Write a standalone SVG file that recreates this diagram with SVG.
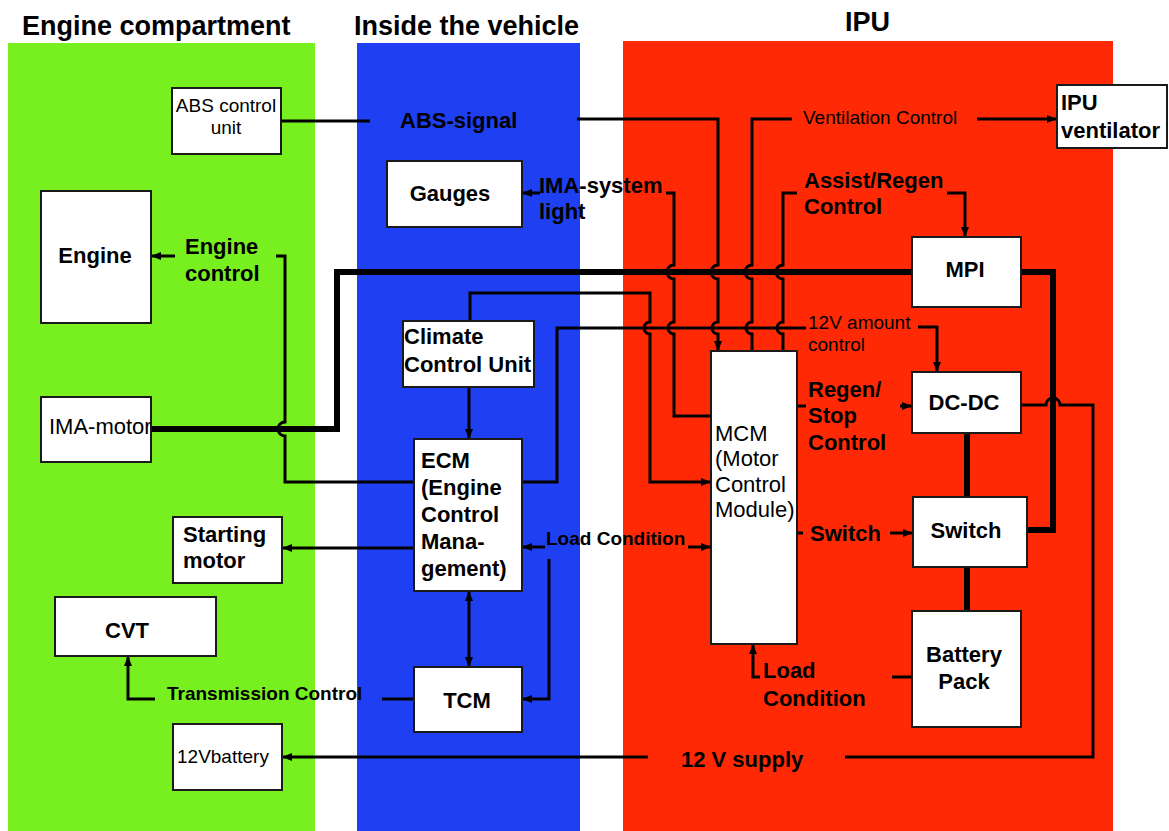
<svg xmlns="http://www.w3.org/2000/svg" width="1169" height="831" viewBox="0 0 1169 831">
<defs>
<marker id="ah" markerUnits="userSpaceOnUse" markerWidth="10" markerHeight="10" refX="10" refY="5" orient="auto-start-reverse"><path d="M0,1 L10,5 L0,9 z" fill="#000"/></marker>
<style>
.t{font-family:"Liberation Sans",Arial,sans-serif;fill:#000}
.b{font-weight:bold}
.h{font-size:27px;font-weight:bold}
.s22{font-size:22px}
.s19{font-size:19px}
.box{fill:#fff;stroke:#1a1a1a;stroke-width:2}
.ln{fill:none;stroke:#000;stroke-width:3}
.th{fill:none;stroke:#000;stroke-width:6}
.ar{marker-end:url(#ah)}
.m{text-anchor:middle}
</style>
</defs>
<rect width="1169" height="831" fill="#fff"/>
<g id="zones">
<rect x="8" y="43" width="307" height="788" fill="#78f020"/>
<rect x="357" y="43" width="223" height="788" fill="#1f3ff2"/>
<rect x="623" y="41" width="490" height="790" fill="#ff2a05"/>
<text class="t h" x="22" y="35">Engine compartment</text>
<text class="t h" x="354" y="35">Inside the vehicle</text>
<text class="t h" x="845" y="31">IPU</text>
</g>
<g id="connectors">
<path class="th" d="M151,429 H337 V272 H912"/>
<path class="th" d="M1021,272 H1053 V530 H1027"/>
<path class="th" d="M967,433 V497 M967,567 V611"/>
<path class="ln" d="M281,121 H370"/>
<path class="ln" d="M522,482 H557 V328 H806"/>
<path class="ln ar" d="M577,119 H718 V265 a7,7 0 0 0 0,14 V322 a6,6 0 0 0 0,12 V351"/>
<path class="ln" d="M792,119 H752 V265 a7,7 0 0 0 0,14 V322 a6,6 0 0 0 0,12 V351"/>
<path class="ln ar" d="M977,119 H1057"/>
<path class="ln" d="M797,193 H783 V265 a7,7 0 0 0 0,14 V322 a6,6 0 0 0 0,12 V351"/>
<path class="ln ar" d="M947,193 H965 V237"/>
<path class="ln" d="M666,193 H674 V265 a7,7 0 0 0 0,14 V322 a6,6 0 0 0 0,12 V416 H711"/>
<path class="ln ar" d="M540,193 H522"/>
<path class="ln ar" d="M470,321 V293 H650 V322 a6,6 0 0 0 0,12 V482 H711"/>
<path class="ln ar" d="M918,327 H937 V372"/>
<path class="ln ar" d="M175,256 H151"/>
<path class="ln" d="M276,256 H285 V422 a7,7 0 0 0 0,14 V482 H414"/>
<path class="ln ar" d="M648,757 H282"/>
<path class="ln" d="M845,757 H1093 V405 H1060 a7,7 0 0 0 -14,0 H1021"/>
<path class="ln" d="M797,406 H806 M797,533 H803"/>
<path class="ln ar" d="M900,406 H912"/>
<path class="ln ar" d="M890,533 H913"/>
<path class="ln ar" d="M545,547 H522"/>
<path class="ln ar" d="M688,547 H711"/>
<path class="ln ar" d="M549,559 V699 H522"/>
<path class="ln ar" d="M469,387 V439"/>
<path class="ln ar" d="M469,591 V667" marker-start="url(#ah)"/>
<path class="ln ar" d="M414,548 H282"/>
<path class="ln" d="M414,699 H382"/>
<path class="ln ar" d="M155,699 H128 V656"/>
<path class="ln ar" d="M760,677 H753 V644"/>
<path class="ln" d="M892,677 H912"/>
</g>
<g id="labels">
<text class="t b s22" x="400" y="128">ABS-signal</text>
<text class="t b s22" x="539" y="193">IMA-system</text>
<text class="t b s22" x="539" y="219">light</text>
<text class="t b s22" x="185" y="254">Engine</text>
<text class="t b s22" x="185" y="281">control</text>
<text class="t b s19" x="546" y="545">Load Condition</text>
<text class="t b s19" x="167" y="700">Transmission Control</text>
<text class="t b s22" x="681" y="767">12 V supply</text>
<text class="t s19" x="803" y="124">Ventilation Control</text>
<text class="t b s22" x="804" y="188">Assist/Regen</text>
<text class="t b s22" x="804" y="214">Control</text>
<text class="t s19" x="808" y="329">12V amount</text>
<text class="t s19" x="808" y="351">control</text>
<text class="t b s22" x="808" y="397">Regen/</text>
<text class="t b s22" x="808" y="423">Stop</text>
<text class="t b s22" x="808" y="450">Control</text>
<text class="t b s22" x="810" y="541">Switch</text>
<text class="t b s22" x="763" y="678">Load</text>
<text class="t b s22" x="763" y="706">Condition</text>
</g>
<g id="abs"><rect class="box" x="172" y="88" width="109" height="66"/><text class="t s19 m" x="226" y="112">ABS control</text><text class="t s19 m" x="226" y="134">unit</text></g>
<g id="engine"><rect class="box" x="41" y="191" width="110" height="132"/><text class="t b s22 m" x="95" y="263">Engine</text></g>
<g id="ima-motor"><rect class="box" x="41" y="397" width="110" height="65"/><text class="t s22" x="49" y="434">IMA-motor</text></g>
<g id="starting-motor"><rect class="box" x="173" y="517" width="109" height="66"/><text class="t b s22" x="183" y="542">Starting</text><text class="t b s22" x="183" y="568">motor</text></g>
<g id="cvt"><rect class="box" x="55" y="597" width="161" height="59"/><text class="t b s22 m" x="127" y="638">CVT</text></g>
<g id="battery12v"><rect class="box" x="173" y="724" width="109" height="66"/><text class="t s19" x="177" y="763">12Vbattery</text></g>
<g id="gauges"><rect class="box" x="387" y="161" width="135" height="66"/><text class="t b s22 m" x="450" y="201">Gauges</text></g>
<g id="climate"><rect class="box" x="403" y="321" width="131" height="66"/><text class="t b s22" x="404" y="344">Climate</text><text class="t b s22" x="404" y="372">Control Unit</text></g>
<g id="ecm"><rect class="box" x="414" y="439" width="108" height="152"/><text class="t b s22" x="421" y="468">ECM</text><text class="t b s22" x="421" y="495">(Engine</text><text class="t b s22" x="421" y="522">Control</text><text class="t b s22" x="421" y="549">Mana-</text><text class="t b s22" x="421" y="576">gement)</text></g>
<g id="tcm"><rect class="box" x="414" y="667" width="108" height="65"/><text class="t b s22 m" x="467" y="708">TCM</text></g>
<g id="ipu-ventilator"><rect class="box" x="1057" y="85" width="110" height="63"/><text class="t b s22" x="1061" y="110">IPU</text><text class="t b s22" x="1061" y="138">ventilator</text></g>
<g id="mpi"><rect class="box" x="912" y="237" width="109" height="70"/><text class="t b s22 m" x="965" y="277">MPI</text></g>
<g id="mcm"><rect class="box" x="711" y="351" width="86" height="293"/><text class="t s22" x="715" y="441">MCM</text><text class="t s22" x="715" y="466">(Motor</text><text class="t s22" x="715" y="492">Control</text><text class="t s22" x="715" y="517">Module)</text></g>
<g id="dcdc"><rect class="box" x="912" y="372" width="109" height="61"/><text class="t b s22 m" x="964" y="410">DC-DC</text></g>
<g id="switch"><rect class="box" x="913" y="497" width="114" height="70"/><text class="t b s22 m" x="966" y="538">Switch</text></g>
<g id="battery-pack"><rect class="box" x="912" y="611" width="109" height="116"/><text class="t b s22 m" x="964" y="662">Battery</text><text class="t b s22 m" x="964" y="689">Pack</text></g>
</svg>
